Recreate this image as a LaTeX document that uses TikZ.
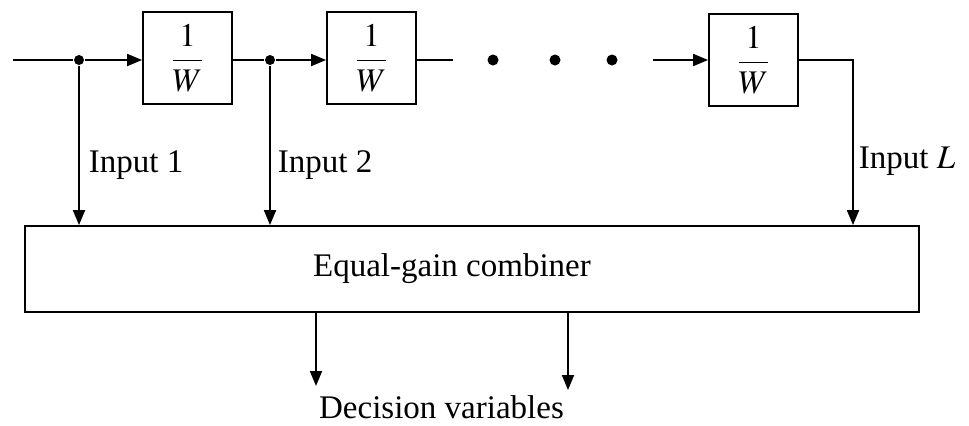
\documentclass[tikz,border=0pt]{standalone}
\usepackage{amsmath}
\usepackage{mathptmx}
\usepackage[no-math]{fontspec}
\setmainfont{Liberation Serif}
\usetikzlibrary{arrows.meta}

\begin{document}
\begin{tikzpicture}[x=0.5pt, y=-0.5pt,
  font=\fontsize{16.5}{20}\selectfont, line width=0.9pt,
  >={Triangle[length=7.5pt,width=6pt]},
  wbox/.style = {shape=rectangle, draw, inner sep=0pt,
    minimum width=44.5pt, minimum height=46pt},
  junc/.style = {shape=circle, fill, inner sep=0pt, minimum size=5pt},
  gapdot/.style = {shape=circle, fill, inner sep=0pt, minimum size=5.5pt},
  lbl/.style = {anchor=base west, inner sep=0pt}]
  \useasboundingbox (0,0) rectangle (969,425);
  % delay line
  \coordinate (in) at (13,60);
  \node[junc] (j1) at (79,60) {};
  \node[wbox] (w1) at (187.5,58) {$\dfrac{1}{W}$};
  \node[junc] (j2) at (270,60) {};
  \node[wbox] (w2) at (371.5,58) {$\dfrac{1}{W}$};
  \coordinate (w2out) at (453,60);
  \foreach \x/\n in {493/a,555/b,612/c}
    \node[gapdot] (g\n) at (\x,60) {};
  \coordinate (w3in) at (653,60);
  \node[wbox] (w3) at (753.5,60) {$\dfrac{1}{W}$};
  \coordinate (c3) at (853,60);
  % combiner
  \node[draw, minimum width=447pt, minimum height=43pt] (comb) at (472,269)
    {Equal-gain combiner\hspace*{20pt}};
  \node[lbl] (in1) at (88,172) {Input 1};
  \node[lbl] (in2) at (277,172) {Input 2};
  \node[lbl] (inL) at (858,168) {Input $L$};
  \coordinate (d1) at (316,386);
  \coordinate (d2) at (568,390);
  \node[anchor=base] (dec) at (441.5,418) {Decision variables};

  \draw (in) -- (j1);
  \draw[->] (j1) -- (j1 -| w1.west);
  \draw (j2 -| w1.east) -- (j2);
  \draw[->] (j2) -- (j2 -| w2.west);
  \draw (w2out -| w2.east) -- (w2out);
  \draw[->] (w3in) -- (w3);
  \draw[->] (w3) -- (c3) -- (c3 |- comb.north);
  \draw[->] (j1) -- (j1 |- comb.north);
  \draw[->] (j2) -- (j2 |- comb.north);
  \draw[->] (comb.south -| d1) -- (d1);
  \draw[->] (comb.south -| d2) -- (d2);
\end{tikzpicture}
\end{document}
